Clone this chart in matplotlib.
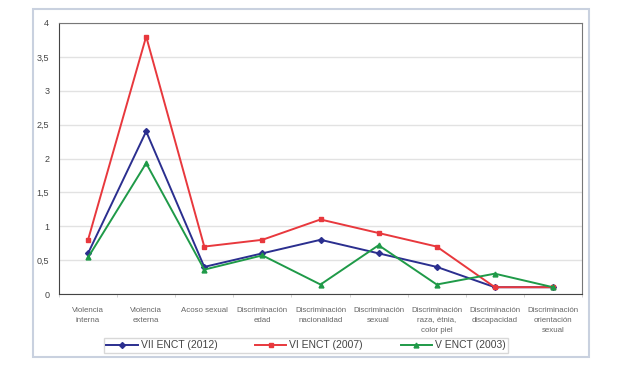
import numpy as np
import matplotlib.pyplot as plt
from matplotlib.patches import Rectangle
from matplotlib.ticker import FuncFormatter

plt.rcParams['font.family'] = ['Liberation Sans', 'DejaVu Sans']

categorias = ['Violencia\ninterna', 'Violencia\nexterna', 'Acoso sexual',
              'Discriminación\nedad', 'Discriminación\nnacionalidad',
              'Discriminación\nsexual', 'Discriminación\nraza, étnia,\ncolor piel',
              'Discriminación\ndiscapacidad', 'Discriminación\norientación\nsexual']
vii_2012 = [0.6, 2.4, 0.4, 0.6, 0.8, 0.6, 0.4, 0.1, 0.1]
vi_2007 = [0.8, 3.8, 0.7, 0.8, 1.1, 0.9, 0.7, 0.1, 0.1]
v_2003 = [0.54, 1.93, 0.36, 0.57, 0.14, 0.72, 0.14, 0.3, 0.1]

fig = plt.figure(figsize=(6.2, 3.68), dpi=100)
fig.patches.append(Rectangle((33 / 620, 1 - 357 / 368), (589 - 33) / 620, (357 - 9) / 368,
                             transform=fig.transFigure, fill=False,
                             edgecolor='#c9d1df', linewidth=1.5))

ax = fig.add_axes([59 / 620, 1 - 294 / 368, 523 / 620, 271 / 368])
x = np.arange(len(categorias))

ax.plot(x, vii_2012, color='#2b2f8f', marker='D', markersize=3, linewidth=1.4,
        label='VII ENCT (2012)')
ax.plot(x, vi_2007, color='#e8383d', marker='s', markersize=3.5, linewidth=1.4,
        label='VI ENCT (2007)')
ax.plot(x, v_2003, color='#1f9a48', marker='^', markersize=3.5, linewidth=1.4,
        label='V ENCT (2003)')

ax.set_xlim(-0.5, len(categorias) - 0.5)
ax.set_ylim(0, 4)
ax.set_yticks(np.arange(0, 4.01, 0.5))
ax.yaxis.set_major_formatter(FuncFormatter(lambda v, p: f'{v:g}'.replace('.', ',')))
ax.set_xticks(x)
ax.set_xticklabels(categorias, fontsize=5.7, color='#666666', linespacing=1.6)
ax.set_xticks(np.arange(-0.5, len(categorias), 1), minor=True)
ax.tick_params(axis='x', which='major', length=0, pad=9)
ax.tick_params(axis='x', which='minor', length=2, color='#cccccc')
ax.tick_params(axis='y', labelsize=6.5, colors='#444444', length=0, pad=7)
ax.grid(axis='y', color='#e2e2e2', linewidth=1)
ax.set_axisbelow(True)
for s in ax.spines.values():
    s.set_color('#777777')
ax.spines['left'].set_color('#444444')
ax.spines['bottom'].set_color('#444444')

leg = fig.legend(loc='center', bbox_to_anchor=(306 / 620, 1 - 345.5 / 368), ncol=3,
                 fontsize=7.5, frameon=True, fancybox=False, edgecolor='#cfcfcf',
                 handlelength=3, columnspacing=3.6, borderpad=0.2, handletextpad=0.3)
for t in leg.get_texts():
    t.set_color('#444444')

fig.savefig('out.png', dpi=100)
